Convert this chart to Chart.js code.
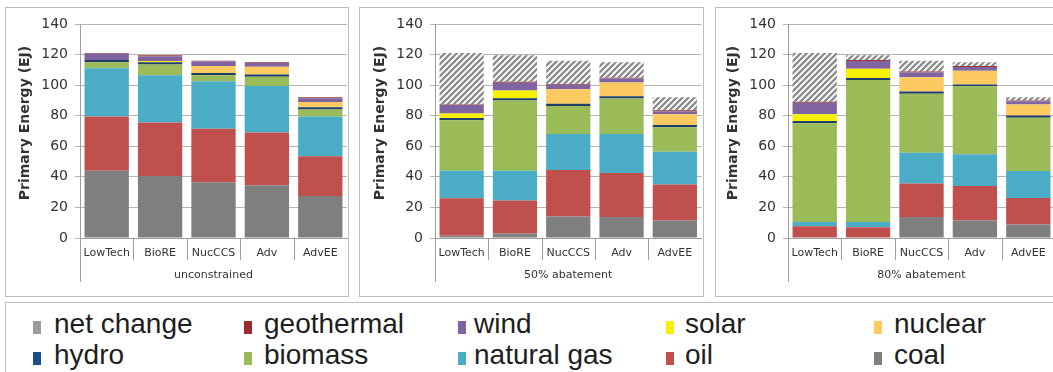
<!DOCTYPE html>
<html>
<head>
<meta charset="utf-8">
<script src="https://cdn.jsdelivr.net/npm/chart.js@4.4.1/dist/chart.umd.min.js"></script>
<style>
  html, body { margin: 0; padding: 0; }
  body { width: 1053px; height: 372px; overflow: hidden; background: #fff; position: relative; }
  .box { position: absolute; top: 7px; height: 290px; box-sizing: border-box; border: 1px solid #bdbdbd; pointer-events: none; }
  canvas.panel { position: absolute; top: 7px; }
  #legend { position: absolute; left: 5px; top: 302px; width: 1060px; height: 90px; box-sizing: border-box; border: 1px solid #bdbdbd; }
  .lg-text { position: absolute; font: 28px "Liberation Sans", Arial, sans-serif; line-height: 28px; color: #1e1e1e; white-space: nowrap; }
  .lg-sw { position: absolute; width: 8px; height: 13px; }
</style>
</head>
<body>
<div id="legend"></div>
<script>
// Scenario bars, bottom-up stacking order follows the series list below.
const categories = ['LowTech', 'BioRE', 'NucCCS', 'Adv', 'AdvEE'];
const scenarios = ['unconstrained', '50% abatement', '80% abatement'];
const yTickValues = [0, 20, 40, 60, 80, 100, 120, 140];

// Primary energy in EJ; five values per scenario, in scenario order
// (unconstrained, 50% abatement, 80% abatement).
const coal       = [44, 40.5, 36.5, 34.5, 27.5,   1.5, 3, 14, 13.8, 11.5,   0, 0, 13.8, 11.6, 8.8];
const oil        = [35.5, 35, 35, 34.5, 26,       24.5, 21.5, 30.5, 28.8, 23.5,   7.7, 7, 21.8, 22.5, 17.4];
const naturalGas = [31.5, 31, 31, 30.5, 26,       18, 19.5, 23.5, 25.4, 21.5,   2.8, 3.5, 20.1, 20.7, 17.7];
const biomass    = [4, 7, 4, 6, 4.5,              33, 46, 18.3, 23.3, 16,   64.5, 92.8, 38.7, 44.4, 34.8];
const hydro      = [1.5, 1.5, 1.5, 1.5, 1.5,      1.5, 1.5, 1.5, 1.5, 1.5,   1.5, 1.3, 1.4, 1.2, 1.4];
const nuclear    = [0, 0, 4.5, 5, 3.5,            0, 0, 9.5, 9, 7,   0, 0, 9.4, 9, 7.3];
const solar      = [0, 0.8, 0, 0, 0,              3, 5, 0, 0, 0,   4.5, 6.2, 0, 0, 0];
const wind       = [4, 3, 3, 2.5, 2.5,            5.5, 5, 3, 2.5, 2,   7.5, 5, 3, 2.5, 2];
const geothermal = [0.5, 0.7, 0.5, 0.5, 0.5,      0.3, 0.7, 0.5, 0.5, 0.5,   0.7, 0.7, 0.8, 0.6, 0.6];
const netChange  = [0, 0, 0, 0, 0,                33.7, 17.3, 15.2, 10.2, 8.5,   31.8, 3, 7, 2.5, 2];

const seriesNames  = ['coal', 'oil', 'natural gas', 'biomass', 'hydro', 'nuclear', 'solar', 'wind', 'geothermal', 'net change'];
const seriesValues = [coal, oil, naturalGas, biomass, hydro, nuclear, solar, wind, geothermal, netChange];
const seriesColors = ['#7f7f7f', '#c0504d', '#4bacc6', '#9bbb59', '#1f3f66', '#fdc961', '#f7f000', '#8064a2', '#953735', null];

// Legend layout: two rows of five entries
const legendOrder = ['net change', 'geothermal', 'wind', 'solar', 'nuclear',
                     'hydro', 'biomass', 'natural gas', 'oil', 'coal'];
const legendSwatchX = [32, 243, 457, 665, 873];
const legendTextX   = [53, 263, 473, 684, 893];
const legendRowY    = [324, 355];
const legendColors  = {'net change': '#9b9b9b', 'geothermal': '#9b2d30', 'wind': '#8064a2', 'solar': '#f7f000',
                       'nuclear': '#fdc961', 'hydro': '#1f4e8c', 'biomass': '#9bbb59', 'natural gas': '#4bacc6',
                       'oil': '#c0504d', 'coal': '#7f7f7f'};

const FONT = '"DejaVu Sans", Verdana, sans-serif';
const TEXT = '#333333';
const GRID = '#b4b4b4';
const AXIS = '#9e9e9e';

// Diagonal hatch used for the "net change" segments
function makeHatch() {
  const c = document.createElement('canvas');
  c.width = 6; c.height = 6;
  const g = c.getContext('2d');
  g.fillStyle = '#f4f4f4';
  g.fillRect(0, 0, 6, 6);
  g.strokeStyle = '#858585';
  g.lineWidth = 2;
  g.beginPath();
  g.moveTo(-1, 7); g.lineTo(7, -1);
  g.moveTo(-1, 1); g.lineTo(1, -1);
  g.moveTo(5, 7); g.lineTo(7, 5);
  g.stroke();
  return g.createPattern(c, 'repeat');
}
const hatch = makeHatch();

// Panel frames: left edge, width, y-axis band width, right padding
const panels = [
  {left: 5,   width: 344, axisW: 75, padRight: 2},
  {left: 359, width: 345, axisW: 76, padRight: 2.5},
  {left: 715, width: 345, axisW: 73, padRight: 5}
];

// Two-level category axis decoration and the rotated axis title
const decor = {
  id: 'decor',
  afterDraw(chart) {
    const ctx = chart.ctx;
    const a = chart.chartArea;
    const n = chart.data.labels.length;
    const w = (a.right - a.left) / n;
    ctx.save();
    ctx.strokeStyle = AXIS;
    ctx.lineWidth = 1;
    ctx.beginPath();
    for (let i = 1; i < n; i++) {
      const x = Math.round(a.left + i * w) + 0.5;
      ctx.moveTo(x, a.bottom);
      ctx.lineTo(x, a.bottom + 22);
    }
    const lx = Math.round(a.left) + 0.5;
    ctx.moveTo(lx, a.bottom);
    ctx.lineTo(lx, a.bottom + 44);
    ctx.stroke();

    ctx.fillStyle = TEXT;
    ctx.font = '11px ' + FONT;
    ctx.textAlign = 'center';
    ctx.textBaseline = 'middle';
    ctx.fillText(chart.options.plugins.decor.group, (a.left + a.right) / 2, a.bottom + 37);

    ctx.translate(a.left - 55, 116);
    ctx.rotate(-Math.PI / 2);
    ctx.font = 'bold 14px ' + FONT;
    ctx.fillText('Primary Energy (EJ)', 0, 0);
    ctx.restore();
  }
};

function buildPanel(idx) {
  const p = panels[idx];
  const cv = document.createElement('canvas');
  cv.className = 'panel';
  cv.width = p.width;
  cv.height = 290;
  cv.style.left = p.left + 'px';
  document.body.appendChild(cv);

  const box = document.createElement('div');
  box.className = 'box';
  box.style.left = p.left + 'px';
  box.style.width = p.width + 'px';
  document.body.appendChild(box);

  const part = arr => arr.slice(idx * 5, idx * 5 + 5);

  new Chart(cv, {
    type: 'bar',
    data: {
      labels: categories,
      datasets: seriesNames.map((name, i) => ({
        label: name,
        data: part(seriesValues[i]),
        backgroundColor: seriesColors[i] || hatch,
        borderWidth: 0,
        barPercentage: 0.83,
        categoryPercentage: 1
      }))
    },
    options: {
      responsive: false,
      animation: false,
      devicePixelRatio: 1,
      layout: {padding: {top: 17, right: p.padRight, left: 0, bottom: 0}},
      plugins: {
        legend: {display: false},
        tooltip: {enabled: false},
        decor: {group: scenarios[idx]}
      },
      scales: {
        x: {
          stacked: true,
          grid: {display: false, drawTicks: false},
          border: {display: true, color: AXIS},
          ticks: {font: {family: FONT, size: 11}, color: TEXT, padding: 9, maxRotation: 0, autoSkip: false},
          afterFit: s => { s.height = 59; }
        },
        y: {
          stacked: true,
          min: 0,
          max: 140,
          afterBuildTicks: s => { s.ticks = yTickValues.map(v => ({value: v})); },
          grid: {color: GRID, tickLength: 5},
          border: {display: true, color: AXIS},
          ticks: {font: {family: FONT, size: 14}, color: TEXT, padding: 7},
          afterFit: s => { s.width = p.axisW; }
        }
      }
    },
    plugins: [decor]
  });
}

scenarios.forEach((_, i) => buildPanel(i));

// Legend entries
const legend = document.getElementById('legend');
legendOrder.forEach((name, k) => {
  const col = k % 5, row = Math.floor(k / 5);
  const cy = legendRowY[row] - 302;
  const sw = document.createElement('div');
  sw.className = 'lg-sw';
  sw.style.left = (legendSwatchX[col] - 5) + 'px';
  sw.style.top = (cy - 4) + 'px';
  sw.style.background = legendColors[name];
  legend.appendChild(sw);
  const t = document.createElement('div');
  t.className = 'lg-text';
  t.textContent = name;
  t.style.left = (legendTextX[col] - 5) + 'px';
  t.style.top = (cy - 15) + 'px';
  legend.appendChild(t);
});
</script>
</body>
</html>
